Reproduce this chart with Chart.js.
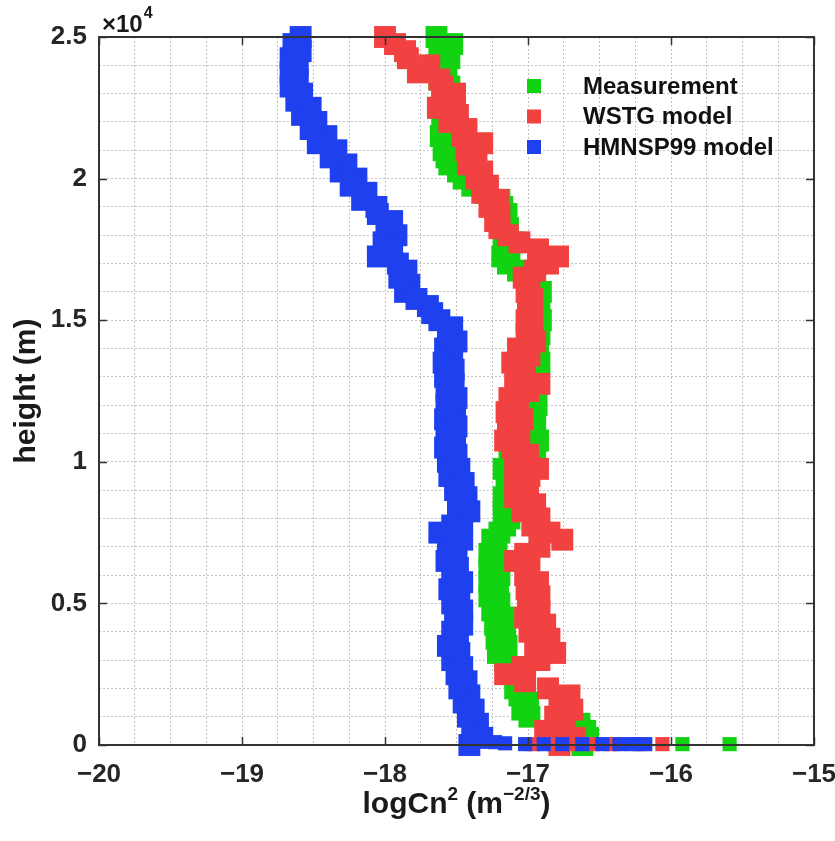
<!DOCTYPE html>
<html>
<head>
<meta charset="utf-8">
<script src="https://cdn.jsdelivr.net/npm/chart.js@4.4.1/dist/chart.umd.min.js"></script>
<style>
  html, body { margin: 0; padding: 0; background: #fff; }
</style>
</head>
<body>
<canvas id="cn2Chart" width="835" height="841"></canvas>
<script>
// profile sample heights (m)
const heights = [
  0, 250, 500, 750, 1000, 1250, 1500, 1750, 2000, 2250,
  2500, 2750, 3000, 3250, 3500, 3750, 4000, 4250, 4500, 4750,
  5000, 5250, 5500, 5750, 6000, 6250, 6500, 6750, 7000, 7250,
  7500, 7750, 8000, 8250, 8500, 8750, 9000, 9250, 9500, 9750,
  10000, 10250, 10500, 10750, 11000, 11250, 11500, 11750, 12000, 12250,
  12500, 12750, 13000, 13250, 13500, 13750, 14000, 14250, 14500, 14750,
  15000, 15250, 15500, 15750, 16000, 16250, 16500, 16750, 17000, 17250,
  17500, 17750, 18000, 18250, 18500, 18750, 19000, 19250, 19500, 19750,
  20000, 20250, 20500, 20750, 21000, 21250, 21500, 21750, 22000, 22250,
  22500, 22750, 23000, 23250, 23500, 23750, 24000, 24250, 24500, 24750,
  25000
];

// logCn2, one per height
const measurement = [
  -16.62, -16.58, -16.60, -16.64, -16.99, -17.04, -17.00, -17.06, -17.09, -17.07,
  -17.11, -17.09, -17.16, -17.21, -17.15, -17.22, -17.16, -17.23, -17.17, -17.25,
  -17.20, -17.27, -17.21, -17.27, -17.20, -17.27, -17.22, -17.27, -17.22, -17.25,
  -17.20, -17.16, -17.13, -17.17, -17.13, -17.17, -17.11, -17.06, -17.15, -17.17,
  -17.13, -17.04, -16.95, -16.93, -16.99, -17.01, -16.95, -16.97, -16.94, -16.99,
  -17.01, -16.95, -16.93, -16.95, -16.92, -16.97, -17.00, -16.93, -16.92, -16.95,
  -16.91, -16.94, -16.92, -16.94, -16.91, -16.95, -17.01, -17.07, -17.14, -17.18,
  -17.13, -17.10, -17.17, -17.14, -17.20, -17.15, -17.18, -17.20, -17.30, -17.39,
  -17.45, -17.49, -17.55, -17.57, -17.59, -17.56, -17.61, -17.57, -17.60, -17.58,
  -17.62, -17.56, -17.60, -17.55, -17.62, -17.57, -17.64, -17.55, -17.62, -17.53,
  -17.64
];
const wstg = [
  -16.78, -16.67, -16.88, -16.74, -16.81, -16.69, -16.78, -16.71, -16.86, -17.02,
  -17.16, -17.04, -16.92, -16.81, -16.95, -16.85, -16.99, -16.88, -17.02, -16.92,
  -17.00, -16.92, -17.01, -16.93, -17.02, -16.99, -17.09, -17.02, -16.92, -16.76,
  -16.85, -16.97, -16.92, -17.04, -16.95, -17.09, -17.00, -17.09, -16.99, -16.93,
  -17.09, -17.00, -17.11, -17.16, -17.06, -17.14, -17.04, -17.15, -17.07, -17.13,
  -17.00, -16.92, -17.09, -17.02, -17.11, -16.99, -17.07, -16.95, -17.01, -16.97,
  -17.01, -16.97, -17.00, -16.97, -17.01, -16.99, -17.03, -16.95, -16.86, -16.79,
  -16.93, -17.06, -17.14, -17.20, -17.23, -17.20, -17.27, -17.21, -17.32, -17.28,
  -17.36, -17.32, -17.42, -17.36, -17.43, -17.32, -17.46, -17.43, -17.55, -17.49,
  -17.63, -17.56, -17.51, -17.60, -17.62, -17.77, -17.69, -17.84, -17.86, -17.93,
  -18.00
];
const hmnsp99 = [
  -17.41, -17.32, -17.39, -17.35, -17.42, -17.38, -17.45, -17.41, -17.48, -17.43,
  -17.50, -17.46, -17.53, -17.48, -17.56, -17.49, -17.53, -17.46, -17.51, -17.46,
  -17.53, -17.48, -17.55, -17.46, -17.53, -17.49, -17.57, -17.50, -17.56, -17.46,
  -17.62, -17.53, -17.46, -17.41, -17.49, -17.43, -17.51, -17.45, -17.55, -17.48,
  -17.56, -17.50, -17.58, -17.51, -17.57, -17.50, -17.58, -17.51, -17.57, -17.50,
  -17.57, -17.52, -17.58, -17.52, -17.59, -17.53, -17.58, -17.50, -17.56, -17.53,
  -17.62, -17.67, -17.70, -17.78, -17.86, -17.83, -17.90, -17.85, -17.91, -18.05,
  -17.95, -18.01, -17.92, -17.99, -17.95, -18.05, -18.06, -18.16, -18.13, -18.24,
  -18.20, -18.31, -18.27, -18.38, -18.34, -18.47, -18.41, -18.52, -18.48, -18.58,
  -18.52, -18.62, -18.58, -18.66, -18.61, -18.66, -18.61, -18.66, -18.59, -18.64,
  -18.59
];

// near-ground samples (the horizontal runs along the x axis)
const measGroundH = [30, 30];
const measGroundX = [-15.92, -15.59];
const wstgGroundH = [30, 30, 30, 30, 30, 30, 30];
const wstgGroundX = [-16.96, -16.82, -16.69, -16.55, -16.41, -16.22, -16.06];
const hmnspGroundH = [150, 100, 60, 30, 30, 30, 30, 30, 30, 30, 30];
const hmnspGroundX = [-17.34, -17.23, -17.16, -17.02, -16.89, -16.76, -16.62, -16.48, -16.36, -16.27, -16.18];

const seriesNames = ['Measurement', 'WSTG model', 'HMNSP99 model'];
const xTickValues = [-20, -19, -18, -17, -16, -15];
const yTickValues = [0, 5000, 10000, 15000, 20000, 25000];

const FONT = "'Liberation Sans', Arial, Helvetica, sans-serif";
const colors = ['#12d312', '#f24141', '#1f40ee'];

const toPoints = (vals, hs) => vals.map((v, i) => ({ x: v, y: hs[i] }));

const mkSet = (i, vals, gx, gh, order) => ({
  label: seriesNames[i],
  data: toPoints(vals, heights).concat(toPoints(gx, gh)),
  backgroundColor: colors[i],
  borderColor: colors[i],
  pointStyle: 'rect',
  // profile markers larger so they merge into a band; ground run markers smaller
  pointRadius: ctx => ctx.dataIndex < heights.length ? 15.5 : 10,
  pointHoverRadius: 10,
  pointBorderWidth: 0,
  showLine: false,
  clip: false,
  order: order
});

// frame with inward ticks on all four sides
const framePlugin = {
  id: 'frame',
  afterDatasetsDraw(chart) {
    const { ctx, chartArea: a, scales: { x, y } } = chart;
    ctx.save();
    ctx.strokeStyle = '#333';
    ctx.lineWidth = 2;
    ctx.strokeRect(a.left, a.top, a.right - a.left, a.bottom - a.top);
    ctx.lineWidth = 1.5;
    ctx.beginPath();
    xTickValues.forEach(v => {
      const px = Math.round(x.getPixelForValue(v)) + 0.5;
      ctx.moveTo(px, a.bottom); ctx.lineTo(px, a.bottom - 8);
      ctx.moveTo(px, a.top); ctx.lineTo(px, a.top + 8);
    });
    yTickValues.forEach(v => {
      const py = Math.round(y.getPixelForValue(v)) + 0.5;
      ctx.moveTo(a.left, py); ctx.lineTo(a.left + 8, py);
      ctx.moveTo(a.right, py); ctx.lineTo(a.right - 8, py);
    });
    ctx.stroke();
    ctx.restore();
  }
};

// axis titles, exponent label and legend
const textPlugin = {
  id: 'texts',
  afterDraw(chart) {
    const { ctx, chartArea: a } = chart;
    ctx.save();
    ctx.fillStyle = '#1a1a1a';
    ctx.textBaseline = 'alphabetic';

    // x title: logCn^2 (m^-2/3)
    const big = 'bold 30px ' + FONT, small = 'bold 19px ' + FONT;
    const parts = [['logCn', big, 0], ['2', small, -13], [' (m', big, 0], ['\u22122/3', small, -13], [')', big, 0]];
    let w = 0;
    parts.forEach(p => { ctx.font = p[1]; w += ctx.measureText(p[0]).width; });
    let cx = (a.left + a.right) / 2 - w / 2;
    parts.forEach(p => {
      ctx.font = p[1];
      ctx.fillText(p[0], cx, 813 + p[2]);
      cx += ctx.measureText(p[0]).width;
    });

    // y title
    ctx.save();
    ctx.translate(35, (a.top + a.bottom) / 2);
    ctx.rotate(-Math.PI / 2);
    ctx.font = 'bold 30px ' + FONT;
    ctx.textAlign = 'center';
    ctx.fillText('height (m)', 0, 0);
    ctx.restore();

    // x10^4
    ctx.font = 'bold 24px ' + FONT;
    ctx.fillText('\u00d710', 102, 32);
    const ew = ctx.measureText('\u00d710').width;
    ctx.font = 'bold 16px ' + FONT;
    ctx.fillText('4', 102 + ew + 1, 18);

    // legend
    ctx.font = 'bold 24px ' + FONT;
    ctx.textBaseline = 'middle';
    seriesNames.forEach((name, i) => {
      const ly = 86 + i * 30.5;
      ctx.fillStyle = colors[i];
      ctx.fillRect(527, ly - 7, 14, 14);
      ctx.fillStyle = '#111';
      ctx.fillText(name, 583, ly + 1);
    });
    ctx.restore();
  }
};

new Chart(document.getElementById('cn2Chart'), {
  type: 'scatter',
  data: {
    datasets: [
      mkSet(0, measurement, measGroundX, measGroundH, 3),
      mkSet(1, wstg, wstgGroundX, wstgGroundH, 2),
      mkSet(2, hmnsp99, hmnspGroundX, hmnspGroundH, 1)
    ]
  },
  options: {
    responsive: false,
    animation: false,
    layout: { padding: { left: 0, right: 21, top: 37, bottom: 0 } },
    plugins: { legend: { display: false }, tooltip: { enabled: false } },
    scales: {
      x: {
        type: 'linear',
        min: -20,
        max: -15,
        afterFit: s => { s.height = 96; s.paddingLeft = 0; s.paddingRight = 0; },
        ticks: {
          stepSize: 0.25,
          autoSkip: false,
          maxRotation: 0,
          padding: 14,
          color: '#262626',
          font: { family: FONT, size: 26, weight: 'bold' },
          callback: v => Math.abs(v - Math.round(v)) < 1e-6 ? '\u2212' + Math.abs(Math.round(v)) : ''
        },
        grid: { color: '#c4c4c4', lineWidth: 1, drawTicks: false },
        border: { display: false, dash: [2, 2] }
      },
      y: {
        type: 'linear',
        min: 0,
        max: 25000,
        afterFit: s => { s.width = 99; s.paddingTop = 0; s.paddingBottom = 0; },
        ticks: {
          stepSize: 1000,
          autoSkip: false,
          padding: 12,
          color: '#262626',
          font: { family: FONT, size: 26, weight: 'bold' },
          callback: v => v % 5000 === 0 ? String(v / 10000) : ''
        },
        grid: { color: '#c4c4c4', lineWidth: 1, drawTicks: false },
        border: { display: false, dash: [2, 2] }
      }
    }
  },
  plugins: [framePlugin, textPlugin]
});
</script>
</body>
</html>
